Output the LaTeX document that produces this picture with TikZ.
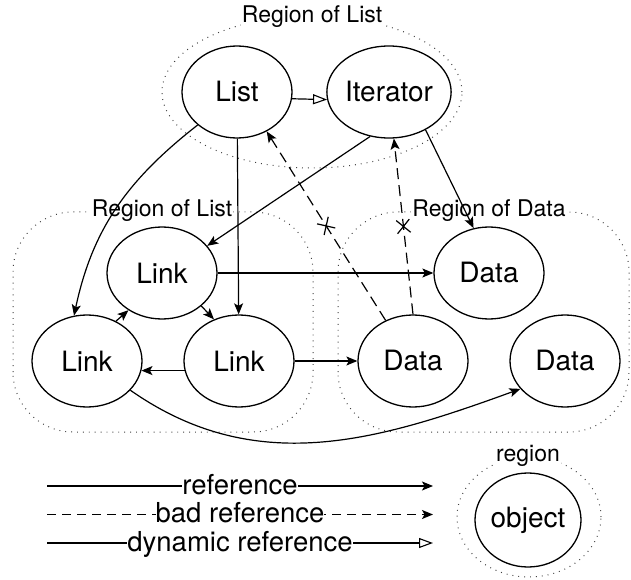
\documentclass[tikz,border=0pt]{standalone}
\usepackage{fontspec}
\setmainfont{TeX Gyre Heros}
\usetikzlibrary{arrows.meta,shapes.geometric,shapes.misc}
\begin{document}
\begin{tikzpicture}[x=1pt,y=1pt,
  obj/.style={ellipse,draw,line width=1.3pt,minimum width=110pt,minimum height=92pt,inner sep=0pt,
    font=\fontsize{28}{30}\selectfont},
  regionline/.style={draw=black!75,line width=1pt,dash pattern=on 0.9pt off 5pt},
  reglabel/.style={anchor=base,fill=white,inner sep=1pt,font=\fontsize{23}{26}\selectfont},
  ref/.style={line width=1.2pt,-{Stealth[length=11pt,width=9pt,inset=2.5pt]}},
  badref/.style={ref,dash pattern=on 11pt off 6pt},
  dynref/.style={line width=1.2pt,-{Triangle[open,length=14pt,width=10pt,line width=1.1pt]}},
  xmark/.style={cross out,draw,solid,line width=1.2pt,minimum size=12pt,inner sep=0pt,sloped},
  leglabel/.style={fill=white,inner sep=0pt,font=\fontsize{27.5}{30}\selectfont},
]
\useasboundingbox (0,0) rectangle (631,579);

% regions
\draw[regionline] (312,487) ellipse [x radius=150, y radius=76];
\node[reglabel] (rl1) at (312,556) {Region of List};
\draw[regionline,rounded corners=60pt] (13,147) rectangle (313,367);
\node[reglabel] (rl2) at (162,362) {Region of List};
\draw[regionline,rounded corners=60pt] (338,147) rectangle (629,367);
\node[reglabel] (rl3) at (489,362) {Region of Data};
\draw[regionline] (529,62) ellipse [x radius=72, y radius=60];
\node[reglabel] (rl4) at (528,118) {region};

% objects
\node[obj] (list) at (237,487) {List};
\node[obj] (iter) at (389,487) {Iterator};
\node[obj] (linkU) at (162,306) {Link};
\node[obj] (linkL) at (87,218) {Link};
\node[obj] (linkR) at (239,218) {Link};
\node[obj] (dataU) at (489,306) {Data};
\node[obj] (dataL) at (413,218) {Data};
\node[obj] (dataR) at (565,218) {Data};
\node[obj,minimum width=106pt,minimum height=94pt] (object) at (528,59) {object};

% connectors
\draw[dynref] (list.-7) -- (iter.187);
\draw[ref] (list.220) to[out=218,in=78] (linkL.106);
\draw[ref] (list) -- (linkR);
\draw[ref] (iter.247) -- (linkU.31);
\draw[ref] (iter.-46) -- (dataU.109);
\draw[badref] (dataL.124) -- node[xmark,pos=0.5] (x1) {} (list.-53);
\draw[badref] (dataL.north) -- node[xmark,pos=0.5] (x2) {} (iter.-84);
\draw[ref] (linkU.east) -- (dataU.west);
\draw[ref] (linkU.-40) -- (linkR.121);
\draw[ref] (linkL.54) -- (linkU.228);
\draw[ref] (linkR.190) -- (linkL.-10);
\draw[ref] (linkR.east) -- (dataL.west);
\draw[ref] (linkL.-34) to[out=-35,in=200] (dataR.212);

% legend
\coordinate (a1) at (47,93);  \coordinate (b1) at (433,93);
\coordinate (a2) at (47,64.5); \coordinate (b2) at (433,64.5);
\coordinate (a3) at (47,36);  \coordinate (b3) at (433,36);
\draw[ref] (a1) -- (b1);
\draw[badref,dash pattern=on 9pt off 6pt] (a2) -- (b2);
\draw[dynref] (a3) -- (b3);
\node[leglabel,anchor=base] (l1) at (240,85) {reference};
\node[leglabel,anchor=base] (l2) at (240,56.5) {bad reference};
\node[leglabel,anchor=base] (l3) at (240,28) {dynamic reference};
\end{tikzpicture}
\end{document}
